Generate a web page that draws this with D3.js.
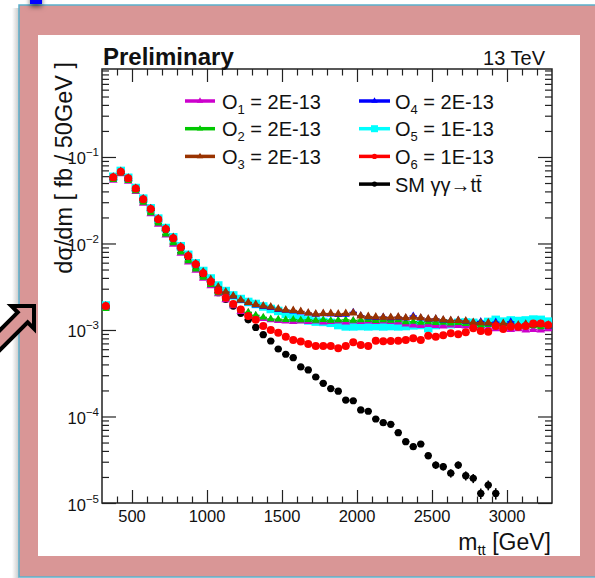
<!DOCTYPE html>
<html>
<head>
<meta charset="utf-8">
<script src="https://cdn.jsdelivr.net/npm/d3@7"></script>
<style>
  html, body { margin: 0; padding: 0; background: #fff; }
  svg { display: block; font-family: "Liberation Sans", Arial, Helvetica, sans-serif; }
</style>
</head>
<body>
<div id="chart"></div>
<script>
'use strict';

const W = 595, H = 578;
const PLOT = { left: 102, right: 552, top: 69, bottom: 503 };
const X_DOMAIN = [300, 3300];
const Y_DOMAIN = [1e-5, 1.04];
const HALF_BIN = 25;          // 50 GeV bins
const BSM_REL_ERR = 0.03;

// bin centres [GeV]
const binCenters = [
  325, 375, 425, 475, 525, 575, 625, 675, 725, 775,
  825, 875, 925, 975, 1025, 1075, 1125, 1175, 1225, 1275,
  1325, 1375, 1425, 1475, 1525, 1575, 1625, 1675, 1725, 1775,
  1825, 1875, 1925, 1975, 2025, 2075, 2125, 2175, 2225, 2275,
  2325, 2375, 2425, 2475, 2525, 2575, 2625, 2675, 2725, 2775,
  2825, 2875, 2925, 2975, 3025, 3075, 3125, 3175, 3225, 3275
];

// dsigma/dm [fb / 50 GeV]
const o1Values = [
  0.00179, 0.0537, 0.0641, 0.0524, 0.0398, 0.0292, 0.0220, 0.0167, 0.0125, 0.00980,
  0.00770, 0.00610, 0.00490, 0.00396, 0.00325, 0.00262, 0.00224, 0.00190, 0.00164, 0.00157,
  0.00145, 0.00136, 0.00131, 0.00129, 0.00127, 0.00125, 0.00127, 0.00125, 0.00127, 0.00124,
  0.00125, 0.00127, 0.00124, 0.00127, 0.00125, 0.00127, 0.00125, 0.00127, 0.00125, 0.00124,
  0.00117, 0.00114, 0.00113, 0.00116, 0.00113, 0.00111, 0.00114, 0.00113, 0.00111, 0.00114,
  0.00107, 0.00105, 0.00103, 0.00104, 0.00101, 0.00103, 0.00100, 0.00101, 0.00100, 0.00103
];
const o2Values = [
  0.00176, 0.0545, 0.0650, 0.0532, 0.0405, 0.0298, 0.0225, 0.0171, 0.0128, 0.0101,
  0.00790, 0.00628, 0.00505, 0.00405, 0.00333, 0.00268, 0.00229, 0.00195, 0.00170, 0.00160,
  0.00148, 0.00140, 0.00134, 0.00133, 0.00131, 0.00132, 0.00130, 0.00131, 0.00129, 0.00131,
  0.00129, 0.00130, 0.00131, 0.00129, 0.00130, 0.00131, 0.00128, 0.00130, 0.00129, 0.00130,
  0.00124, 0.00125, 0.00122, 0.00124, 0.00121, 0.00122, 0.00120, 0.00121, 0.00118, 0.00120,
  0.00113, 0.00115, 0.00112, 0.00114, 0.00110, 0.00112, 0.00109, 0.00111, 0.00108, 0.00110
];
const o3Values = [
  0.00190, 0.0585, 0.0680, 0.0570, 0.0433, 0.0328, 0.0253, 0.0193, 0.0149, 0.0117,
  0.00920, 0.00730, 0.00585, 0.00470, 0.00384, 0.00314, 0.00275, 0.00247, 0.00222, 0.00208,
  0.00197, 0.00189, 0.00184, 0.00175, 0.00170, 0.00168, 0.00164, 0.00157, 0.00153, 0.00155,
  0.00155, 0.00153, 0.00155, 0.00157, 0.00145, 0.00143, 0.00141, 0.00140, 0.00140, 0.00141,
  0.00138, 0.00140, 0.00138, 0.00134, 0.00134, 0.00131, 0.00129, 0.00129, 0.00127, 0.00122,
  0.00121, 0.00121, 0.00117, 0.00119, 0.00117, 0.00114, 0.00117, 0.00114, 0.00116, 0.00114
];
const o4Values = [
  0.00188, 0.0583, 0.0678, 0.0570, 0.0432, 0.0327, 0.0252, 0.0192, 0.0148, 0.0116,
  0.00915, 0.00725, 0.00582, 0.00466, 0.00380, 0.00311, 0.00272, 0.00244, 0.00219, 0.00205,
  0.00194, 0.00186, 0.00181, 0.00172, 0.00168, 0.00165, 0.00161, 0.00156, 0.00151, 0.00153,
  0.00152, 0.00150, 0.00151, 0.00160, 0.00146, 0.00141, 0.00139, 0.00141, 0.00138, 0.00140,
  0.00137, 0.00145, 0.00137, 0.00133, 0.00134, 0.00130, 0.00128, 0.00129, 0.00126, 0.00121,
  0.00125, 0.00120, 0.00123, 0.00118, 0.00124, 0.00112, 0.00116, 0.00115, 0.00117, 0.00111
];
const o5Values = [
  0.00192, 0.0590, 0.0690, 0.0575, 0.0438, 0.0330, 0.0255, 0.0194, 0.0151, 0.0118,
  0.00930, 0.00740, 0.00590, 0.00481, 0.00394, 0.00327, 0.00282, 0.00251, 0.00228, 0.00211,
  0.00200, 0.00187, 0.00175, 0.00166, 0.00153, 0.00141, 0.00134, 0.00129, 0.00125, 0.00124,
  0.00121, 0.00114, 0.00110, 0.00110, 0.00111, 0.00110, 0.00111, 0.00110, 0.00111, 0.00110,
  0.00111, 0.00113, 0.00114, 0.00105, 0.00114, 0.00119, 0.00117, 0.00121, 0.00122, 0.00121,
  0.00117, 0.00124, 0.00131, 0.00125, 0.00129, 0.00127, 0.00129, 0.00132, 0.00131, 0.00125
];
const o6Values = [
  0.00189, 0.0582, 0.0676, 0.0568, 0.0431, 0.0325, 0.0251, 0.0191, 0.0147, 0.0115,
  0.00904, 0.00716, 0.00575, 0.00452, 0.00361, 0.00284, 0.00236, 0.00200, 0.00173, 0.00145,
  0.00131, 0.00111, 0.00100, 0.000930, 0.000837, 0.000765, 0.000736, 0.000689, 0.000653, 0.000653,
  0.000653, 0.000614, 0.000653, 0.000722, 0.000672, 0.000653, 0.000752, 0.000739, 0.000745, 0.000752,
  0.000765, 0.000802, 0.000765, 0.000859, 0.000837, 0.000869, 0.000916, 0.000891, 0.000939, 0.00105,
  0.000973, 0.000955, 0.00111, 0.00103, 0.00109, 0.00109, 0.00111, 0.00119, 0.00119, 0.00114
];
// SM gamma gamma -> ttbar, 325 .. 2925 GeV (below 1e-5 afterwards)
const smValues = [
  0.00185, 0.0575, 0.0670, 0.0560, 0.0425, 0.0320, 0.0246, 0.0186, 0.0143, 0.0111,
  0.00870, 0.00685, 0.00545, 0.00425, 0.00337, 0.00270, 0.00225, 0.00189, 0.00156, 0.00131,
  0.00107, 0.000882, 0.000746, 0.000603, 0.000524, 0.000478, 0.000374, 0.000345, 0.000286, 0.000242,
  0.000210, 0.000196, 0.000155, 0.000152, 0.000119, 0.000115, 9.36e-5, 8.48e-5, 8.12e-5, 6.50e-5,
  5.11e-5, 4.48e-5, 4.81e-5, 3.52e-5, 2.75e-5, 2.63e-5, 2.21e-5, 2.75e-5, 2.07e-5, 1.93e-5,
  1.29e-5, 1.61e-5, 1.29e-5
];
const smRelErr = [
  0.01, 0.01, 0.01, 0.01, 0.01, 0.01, 0.01, 0.01, 0.01, 0.01,
  0.01, 0.01, 0.01, 0.01, 0.01, 0.01, 0.015, 0.015, 0.02, 0.02,
  0.02, 0.025, 0.025, 0.03, 0.03, 0.03, 0.035, 0.035, 0.04, 0.04,
  0.045, 0.045, 0.05, 0.05, 0.055, 0.055, 0.06, 0.065, 0.065, 0.07,
  0.08, 0.08, 0.08, 0.09, 0.10, 0.10, 0.11, 0.10, 0.12, 0.12,
  0.14, 0.13, 0.15
];

const xMajorTicks = [500, 1000, 1500, 2000, 2500, 3000];
const yDecades = [1e-5, 1e-4, 1e-3, 1e-2, 1e-1];
const yDecadeExp = ['\u22125', '\u22124', '\u22123', '\u22122', '\u22121'];

// drawing order: SM first, red on top
const SERIES = [
  { key: 'sm', values: smValues, errs: smRelErr, color: '#000000', shape: 'circle', size: 3.6 },
  { key: 'o5', values: o5Values, color: '#00ffff', shape: 'square', size: 8.5 },
  { key: 'o1', values: o1Values, color: '#cc00cc', shape: 'triangle', size: 32 },
  { key: 'o2', values: o2Values, color: '#00c800', shape: 'triangle', size: 26 },
  { key: 'o4', values: o4Values, color: '#0000ff', shape: 'triangle', size: 28 },
  { key: 'o3', values: o3Values, color: '#993300', shape: 'triangle', size: 32 },
  { key: 'o6', values: o6Values, color: '#ff0000', shape: 'circle', size: 4 },
];

const LEGEND = [
  { key: 'o1', sub: '1', rest: ' = 2E-13', col: 0, row: 0 },
  { key: 'o2', sub: '2', rest: ' = 2E-13', col: 0, row: 1 },
  { key: 'o3', sub: '3', rest: ' = 2E-13', col: 0, row: 2 },
  { key: 'o4', sub: '4', rest: ' = 2E-13', col: 1, row: 0 },
  { key: 'o5', sub: '5', rest: ' = 1E-13', col: 1, row: 1 },
  { key: 'o6', sub: '6', rest: ' = 1E-13', col: 1, row: 2 },
  { key: 'sm', text: 'SM \u03b3\u03b3\u2192tt\u0304', col: 1, row: 3 },
];

const x = d3.scaleLinear().domain(X_DOMAIN).range([PLOT.left, PLOT.right]);
const y = d3.scaleLog().domain(Y_DOMAIN).range([PLOT.bottom, PLOT.top]);

const svg = d3.select('#chart').append('svg')
  .attr('width', W).attr('height', H);

const defs = svg.append('defs');
defs.append('filter').attr('id', 'shadow').attr('x', -1).attr('y', -1).attr('width', 3).attr('height', 3)
  .append('feDropShadow').attr('dx', 0).attr('dy', 3).attr('stdDeviation', 2.5)
  .attr('flood-color', '#000').attr('flood-opacity', 0.55);
const sideShade = defs.append('linearGradient').attr('id', 'sideshade');
sideShade.append('stop').attr('offset', 0).attr('stop-color', '#fff');
sideShade.append('stop').attr('offset', 1).attr('stop-color', '#c8c8c8');
defs.append('clipPath').attr('id', 'plotclip').append('rect')
  .attr('x', PLOT.left).attr('y', PLOT.top)
  .attr('width', PLOT.right - PLOT.left).attr('height', PLOT.bottom - PLOT.top);

// ---- slide decoration: pink frame, blue corner, arrow
svg.append('rect').attr('x', 12).attr('y', 8).attr('width', 7).attr('height', 570)
  .attr('fill', 'url(#sideshade)');
svg.append('rect').attr('x', 19).attr('y', 5).attr('width', 600).attr('height', 572)
  .attr('fill', '#d99696').attr('stroke', '#5ab0cc').attr('stroke-width', 1.5);
svg.append('rect').attr('x', 38).attr('y', 35).attr('width', 542).attr('height', 521)
  .attr('fill', '#fff');
svg.append('rect').attr('x', 30).attr('y', -8).attr('width', 12).attr('height', 12)
  .attr('fill', '#0000ff').attr('filter', 'url(#shadow)');

const arrowPts = [[0, 0], [-16, 16], [-16, 7], [-62, 7], [-62, -7], [-16, -7], [-16, -16]];
svg.append('path')
  .attr('d', d3.line()(arrowPts) + 'Z')
  .attr('transform', 'translate(34,306) rotate(-45)')
  .attr('fill', '#d99696').attr('stroke', '#000').attr('stroke-width', 4)
  .attr('stroke-linejoin', 'miter');

// ---- axes (ROOT style, ticks inside on all four sides)
const axisColor = '#222';
function styleAxis(g) {
  g.select('.domain').remove();
  g.selectAll('.tick line').attr('stroke', axisColor).attr('stroke-width', 1.2);
  g.selectAll('.tick text').remove();
}
const xMinor = d3.range(400, 3300, 100).filter(v => v % 500 !== 0);
const yMinor = y.ticks().filter(v => !yDecades.some(d => Math.abs(d - v) / d < 1e-6));

svg.append('g').attr('transform', `translate(0,${PLOT.bottom})`)
  .call(d3.axisBottom(x).tickValues(xMajorTicks).tickSizeInner(-13).tickSizeOuter(0)).call(styleAxis);
svg.append('g').attr('transform', `translate(0,${PLOT.bottom})`)
  .call(d3.axisBottom(x).tickValues(xMinor).tickSizeInner(-6.5).tickSizeOuter(0)).call(styleAxis);
svg.append('g').attr('transform', `translate(0,${PLOT.top})`)
  .call(d3.axisTop(x).tickValues(xMajorTicks).tickSizeInner(-13).tickSizeOuter(0)).call(styleAxis);
svg.append('g').attr('transform', `translate(0,${PLOT.top})`)
  .call(d3.axisTop(x).tickValues(xMinor).tickSizeInner(-6.5).tickSizeOuter(0)).call(styleAxis);

svg.append('g').attr('transform', `translate(${PLOT.left},0)`)
  .call(d3.axisLeft(y).tickValues(yDecades).tickSizeInner(-14).tickSizeOuter(0)).call(styleAxis);
svg.append('g').attr('transform', `translate(${PLOT.left},0)`)
  .call(d3.axisLeft(y).tickValues(yMinor).tickSizeInner(-7).tickSizeOuter(0)).call(styleAxis);
svg.append('g').attr('transform', `translate(${PLOT.right},0)`)
  .call(d3.axisRight(y).tickValues(yDecades).tickSizeInner(-14).tickSizeOuter(0)).call(styleAxis);
svg.append('g').attr('transform', `translate(${PLOT.right},0)`)
  .call(d3.axisRight(y).tickValues(yMinor).tickSizeInner(-7).tickSizeOuter(0)).call(styleAxis);

svg.append('rect')
  .attr('x', PLOT.left).attr('y', PLOT.top)
  .attr('width', PLOT.right - PLOT.left).attr('height', PLOT.bottom - PLOT.top)
  .attr('fill', 'none').attr('stroke', axisColor).attr('stroke-width', 1.5);

// tick labels
svg.append('g').selectAll('text').data(xMajorTicks).join('text')
  .attr('x', d => x(d)).attr('y', PLOT.bottom + 18.5)
  .attr('text-anchor', 'middle').attr('font-size', 16.5).attr('fill', '#111')
  .text(d => d);

const yLab = svg.append('g').selectAll('text').data(yDecades).join('text')
  .attr('x', 99).attr('y', d => y(d) + 7.5)
  .attr('text-anchor', 'end').attr('font-size', 16.5).attr('fill', '#111');
yLab.append('tspan').text('10');
yLab.append('tspan').attr('font-size', 11.5).attr('dy', -8).text((d, i) => yDecadeExp[i]);

// axis titles
svg.append('text')
  .attr('transform', 'translate(72,62) rotate(-90)')
  .attr('text-anchor', 'end').attr('font-size', 23.5).attr('fill', '#111')
  .text('d\u03c3/dm [ fb / 50GeV ]');

const xt = svg.append('text').attr('x', 551).attr('y', 550)
  .attr('text-anchor', 'end').attr('font-size', 23).attr('fill', '#111');
xt.append('tspan').text('m');
xt.append('tspan').attr('font-size', 15).attr('dy', 5).text('tt');
xt.append('tspan').attr('dy', -5).text(' [GeV]');

svg.append('text').attr('x', 103).attr('y', 65)
  .attr('font-size', 24).attr('font-weight', 'bold').attr('fill', '#111')
  .text('Preliminary');
svg.append('text').attr('x', 545).attr('y', 65)
  .attr('text-anchor', 'end').attr('font-size', 20).attr('fill', '#111')
  .text('13 TeV');

// ---- data points
function markerPath(shape, size) {
  if (shape === 'triangle') return d3.symbol().type(d3.symbolTriangle).size(size)();
  return null;
}

const plot = svg.append('g').attr('clip-path', 'url(#plotclip)');
SERIES.forEach(s => {
  const pts = s.values.map((v, i) => ({
    m: binCenters[i], v, err: s.errs ? s.errs[i] : BSM_REL_ERR,
  }));
  const g = plot.append('g').attr('class', `series-${s.key}`);
  // error bars
  g.selectAll('line.ex').data(pts).join('line')
    .attr('x1', d => x(d.m - HALF_BIN)).attr('x2', d => x(d.m + HALF_BIN))
    .attr('y1', d => y(d.v)).attr('y2', d => y(d.v))
    .attr('stroke', s.color).attr('stroke-width', 1.3);
  g.selectAll('line.ey').data(pts).join('line')
    .attr('x1', d => x(d.m)).attr('x2', d => x(d.m))
    .attr('y1', d => y(d.v * (1 - d.err))).attr('y2', d => y(d.v * (1 + d.err)))
    .attr('stroke', s.color).attr('stroke-width', 1.6);
  if (s.shape === 'circle') {
    g.selectAll('circle').data(pts).join('circle')
      .attr('cx', d => x(d.m)).attr('cy', d => y(d.v)).attr('r', s.size)
      .attr('fill', s.color);
  } else if (s.shape === 'square') {
    g.selectAll('rect').data(pts).join('rect')
      .attr('x', d => x(d.m) - s.size / 2).attr('y', d => y(d.v) - s.size / 2)
      .attr('width', s.size).attr('height', s.size)
      .attr('fill', s.color);
  } else {
    g.selectAll('path').data(pts).join('path')
      .attr('d', markerPath(s.shape, s.size))
      .attr('transform', d => `translate(${x(d.m)},${y(d.v)})`)
      .attr('fill', s.color);
  }
});

// ---- legend
const legCol = [{ x0: 185, x1: 215, tx: 222 }, { x0: 359, x1: 390, tx: 395 }];
const legRowY = r => 101 + r * 27.7;
const seriesByKey = Object.fromEntries(SERIES.map(s => [s.key, s]));
const legend = svg.append('g').attr('class', 'legend');
LEGEND.forEach(e => {
  const s = seriesByKey[e.key];
  const c = legCol[e.col];
  const ly = legRowY(e.row);
  const row = legend.append('g');
  row.append('line').attr('x1', c.x0).attr('x2', c.x1).attr('y1', ly).attr('y2', ly)
    .attr('stroke', s.color).attr('stroke-width', 3.5);
  const mx = (c.x0 + c.x1) / 2;
  if (s.shape === 'circle') {
    row.append('circle').attr('cx', mx).attr('cy', ly).attr('r', 2.6).attr('fill', s.color);
  } else if (s.shape === 'square') {
    row.append('rect').attr('x', mx - 3.5).attr('y', ly - 3.5).attr('width', 7).attr('height', 7).attr('fill', s.color);
  } else {
    row.append('path').attr('d', markerPath('triangle', 18))
      .attr('transform', `translate(${mx},${ly})`).attr('fill', s.color);
  }
  const t = row.append('text').attr('x', c.tx).attr('y', ly + 7.5)
    .attr('font-size', 20).attr('fill', '#111');
  if (e.text) {
    t.text(e.text);
  } else {
    t.append('tspan').text('O');
    t.append('tspan').attr('font-size', 13).attr('dy', 5).text(e.sub);
    t.append('tspan').attr('dy', -5).text(e.rest);
  }
});
</script>
</body>
</html>
